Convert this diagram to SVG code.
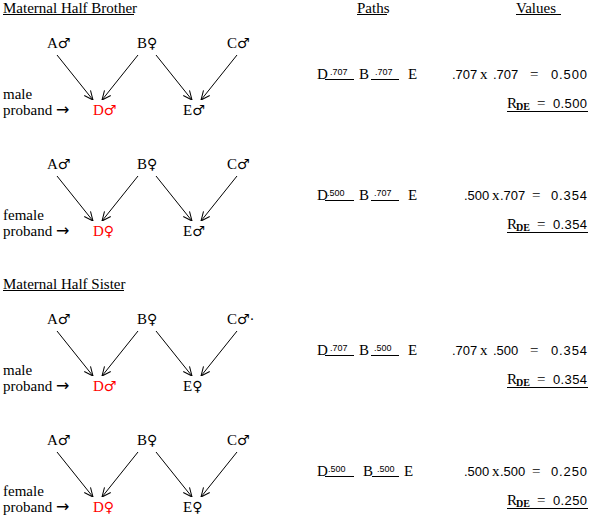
<svg xmlns="http://www.w3.org/2000/svg" width="597" height="521" viewBox="0 0 597 521">
<style>
.t{font-family:"Liberation Serif","Times New Roman",serif;font-size:15px;fill:#000}
.g{font-family:"DejaVu Sans","Noto Sans",sans-serif;font-size:14px}
.arw{font-family:"DejaVu Sans","Noto Sans",sans-serif;font-size:16px}
.red{fill:#ff0000}
.n{font-family:"Liberation Sans",Arial,sans-serif;font-size:13px;fill:#000}
.s{font-family:"Liberation Sans",Arial,sans-serif;font-size:9px;fill:#000}
.sub{font-family:"Liberation Serif","Times New Roman",serif;font-size:10px;font-weight:bold;fill:#000}
.ln{stroke:#000;stroke-width:1;fill:none}
.ar{stroke:#000;stroke-width:1;fill:none;marker-end:url(#ah)}
</style>
<defs>
<marker id="ah" viewBox="0 0 10 10" refX="10" refY="5" markerWidth="10" markerHeight="10" orient="auto" markerUnits="userSpaceOnUse">
<path d="M1,1 L10,5 L1,9" fill="none" stroke="#000" stroke-width="1"/>
</marker>
</defs>
<rect width="597" height="521" fill="#fff"/>

<g id="headers">
<text class="t" x="3" y="13">Maternal Half Brother</text>
<line class="ln" x1="3" y1="14.5" x2="134" y2="14.5"/>
<text class="t" x="357" y="13">Paths</text>
<line class="ln" x1="357" y1="14.5" x2="387" y2="14.5"/>
<text class="t" x="516" y="13">Values</text>
<line class="ln" x1="516" y1="14.5" x2="561" y2="14.5"/>
<text class="t" x="3" y="289">Maternal Half Sister</text>
<line class="ln" x1="3" y1="290.5" x2="124" y2="290.5"/>
</g>

<!-- Panel 1 -->
<g id="panel1">
<g id="p1-A"><text class="t" x="47" y="48">A<tspan class="g">♂</tspan></text></g>
<g id="p1-B"><text class="t" x="137" y="48">B<tspan class="g">♀</tspan></text></g>
<g id="p1-C"><text class="t" x="227" y="48">C<tspan class="g">♂</tspan></text></g>
<g id="p1-D"><text class="t red" x="93" y="115">D<tspan class="g">♂</tspan></text></g>
<g id="p1-E"><text class="t" x="183" y="115">E<tspan class="g">♂</tspan></text></g>
<g id="p1-label"><text class="t" x="3" y="99">male</text><text class="t" x="3" y="115">proband <tspan class="arw">→</tspan></text></g>
<g id="p1-connectors">
<line class="ar" x1="57" y1="55" x2="93" y2="100"/>
<line class="ar" x1="138" y1="55" x2="102" y2="100"/>
<line class="ar" x1="156" y1="55" x2="192" y2="100"/>
<line class="ar" x1="237" y1="55" x2="201" y2="100"/>
</g>
<g id="p1-path">
<text class="t" x="317" y="79">D</text>
<line class="ln" x1="325" y1="79.5" x2="354" y2="79.5"/>
<text class="s" x="330" y="75">.707</text>
<text class="t" x="359" y="79">B</text>
<line class="ln" x1="371" y1="79.5" x2="399" y2="79.5"/>
<text class="s" x="375" y="75">.707</text>
<text class="t" x="408" y="79">E</text>
</g>
<g id="p1-values">
<text class="n" x="452" y="79">.707</text>
<text class="t" x="480" y="79">x</text>
<text class="n" x="493" y="79">.707</text>
<text class="t" x="530" y="79">=</text>
<text class="n" x="551" y="79" textLength="36">0.500</text>
<text class="t" x="507" y="108">R</text>
<text class="sub" x="516" y="110">DE</text>
<text class="t" x="537" y="108">=</text>
<text class="n" x="553" y="108" textLength="34">0.500</text>
<line class="ln" x1="507" y1="111.5" x2="588" y2="111.5"/>
</g>
</g>

<!-- Panel 2 -->
<g id="panel2" transform="translate(0,121)">
<g id="p2-A"><text class="t" x="47" y="48">A<tspan class="g">♂</tspan></text></g>
<g id="p2-B"><text class="t" x="137" y="48">B<tspan class="g">♀</tspan></text></g>
<g id="p2-C"><text class="t" x="227" y="48">C<tspan class="g">♂</tspan></text></g>
<g id="p2-D"><text class="t red" x="93" y="115">D<tspan class="g">♀</tspan></text></g>
<g id="p2-E"><text class="t" x="183" y="115">E<tspan class="g">♂</tspan></text></g>
<g id="p2-label"><text class="t" x="3" y="99">female</text><text class="t" x="3" y="115">proband <tspan class="arw">→</tspan></text></g>
<g id="p2-connectors">
<line class="ar" x1="57" y1="55" x2="93" y2="100"/>
<line class="ar" x1="138" y1="55" x2="102" y2="100"/>
<line class="ar" x1="156" y1="55" x2="192" y2="100"/>
<line class="ar" x1="237" y1="55" x2="201" y2="100"/>
</g>
<g id="p2-path">
<text class="t" x="317" y="79">D</text>
<line class="ln" x1="325" y1="79.5" x2="354" y2="79.5"/>
<text class="s" x="327" y="75">.500</text>
<text class="t" x="359" y="79">B</text>
<line class="ln" x1="371" y1="79.5" x2="399" y2="79.5"/>
<text class="s" x="374" y="75">.707</text>
<text class="t" x="408" y="79">E</text>
</g>
<g id="p2-values">
<text class="n" x="464" y="79">.500</text>
<text class="t" x="492" y="79">x</text>
<text class="n" x="500" y="79">.707</text>
<text class="t" x="532" y="79">=</text>
<text class="n" x="551" y="79" textLength="36">0.354</text>
<text class="t" x="507" y="108">R</text>
<text class="sub" x="516" y="110">DE</text>
<text class="t" x="537" y="108">=</text>
<text class="n" x="553" y="108" textLength="34">0.354</text>
<line class="ln" x1="507" y1="111.5" x2="588" y2="111.5"/>
</g>
</g>

<!-- Panel 3 -->
<g id="panel3" transform="translate(0,276)">
<g id="p3-A"><text class="t" x="47" y="48">A<tspan class="g">♂</tspan></text></g>
<g id="p3-B"><text class="t" x="137" y="48">B<tspan class="g">♀</tspan></text></g>
<g id="p3-C"><text class="t" x="227" y="48">C<tspan class="g">♂</tspan>·</text></g>
<g id="p3-D"><text class="t red" x="93" y="115">D<tspan class="g">♂</tspan></text></g>
<g id="p3-E"><text class="t" x="183" y="115">E<tspan class="g">♀</tspan></text></g>
<g id="p3-label"><text class="t" x="3" y="99">male</text><text class="t" x="3" y="115">proband <tspan class="arw">→</tspan></text></g>
<g id="p3-connectors">
<line class="ar" x1="57" y1="55" x2="93" y2="100"/>
<line class="ar" x1="138" y1="55" x2="102" y2="100"/>
<line class="ar" x1="156" y1="55" x2="192" y2="100"/>
<line class="ar" x1="237" y1="55" x2="201" y2="100"/>
</g>
<g id="p3-path">
<text class="t" x="317" y="79">D</text>
<line class="ln" x1="325" y1="79.5" x2="354" y2="79.5"/>
<text class="s" x="330" y="75">.707</text>
<text class="t" x="359" y="79">B</text>
<line class="ln" x1="371" y1="79.5" x2="399" y2="79.5"/>
<text class="s" x="374" y="75">.500</text>
<text class="t" x="408" y="79">E</text>
</g>
<g id="p3-values">
<text class="n" x="452" y="79">.707</text>
<text class="t" x="480" y="79">x</text>
<text class="n" x="493" y="79">.500</text>
<text class="t" x="530" y="79">=</text>
<text class="n" x="551" y="79" textLength="36">0.354</text>
<text class="t" x="507" y="108">R</text>
<text class="sub" x="516" y="110">DE</text>
<text class="t" x="537" y="108">=</text>
<text class="n" x="553" y="108" textLength="34">0.354</text>
<line class="ln" x1="507" y1="111.5" x2="588" y2="111.5"/>
</g>
</g>

<!-- Panel 4 -->
<g id="panel4" transform="translate(0,397)">
<g id="p4-A"><text class="t" x="47" y="48">A<tspan class="g">♂</tspan></text></g>
<g id="p4-B"><text class="t" x="137" y="48">B<tspan class="g">♀</tspan></text></g>
<g id="p4-C"><text class="t" x="227" y="48">C<tspan class="g">♂</tspan></text></g>
<g id="p4-D"><text class="t red" x="93" y="115">D<tspan class="g">♀</tspan></text></g>
<g id="p4-E"><text class="t" x="183" y="115">E<tspan class="g">♀</tspan></text></g>
<g id="p4-label"><text class="t" x="3" y="99">female</text><text class="t" x="3" y="115">proband <tspan class="arw">→</tspan></text></g>
<g id="p4-connectors">
<line class="ar" x1="57" y1="55" x2="93" y2="100"/>
<line class="ar" x1="138" y1="55" x2="102" y2="100"/>
<line class="ar" x1="156" y1="55" x2="192" y2="100"/>
<line class="ar" x1="237" y1="55" x2="201" y2="100"/>
</g>
<g id="p4-path">
<text class="t" x="317" y="79">D</text>
<line class="ln" x1="325" y1="79.5" x2="354" y2="79.5"/>
<text class="s" x="328" y="75">.500</text>
<text class="t" x="363" y="79">B</text>
<line class="ln" x1="372" y1="79.5" x2="399" y2="79.5"/>
<text class="s" x="377" y="75">.500</text>
<text class="t" x="404" y="79">E</text>
</g>
<g id="p4-values">
<text class="n" x="464" y="79">.500</text>
<text class="t" x="492" y="79">x</text>
<text class="n" x="500" y="79">.500</text>
<text class="t" x="532" y="79">=</text>
<text class="n" x="551" y="79" textLength="36">0.250</text>
<text class="t" x="507" y="108">R</text>
<text class="sub" x="516" y="110">DE</text>
<text class="t" x="537" y="108">=</text>
<text class="n" x="553" y="108" textLength="34">0.250</text>
<line class="ln" x1="507" y1="111.5" x2="588" y2="111.5"/>
</g>
</g>
</svg>
